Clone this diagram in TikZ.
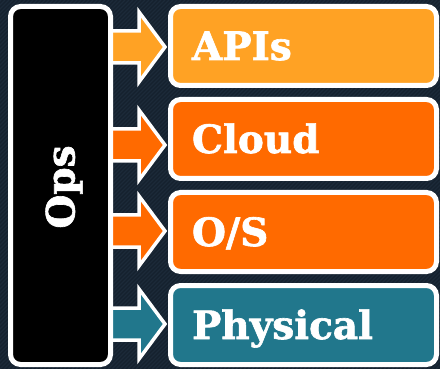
\documentclass[tikz,border=0pt]{standalone}
\usepackage{fontspec}
\setmainfont{DejaVu Serif}[BoldFeatures={FakeBold=1.6}]
\usetikzlibrary{calc}

\definecolor{bgnavy}{HTML}{15212E}
\definecolor{bgstripe}{HTML}{1C2A39}
\definecolor{apiorange}{HTML}{FFA224}
\definecolor{hotorange}{HTML}{FF6A00}
\definecolor{layerteal}{HTML}{21778C}

% block arrow from the Ops column to a layer box: colour, target, vertical offset
\newcommand\feedarrow[3]{%
  \coordinate (s) at ($(ops.east |- #2.west)+(-12,#3)$);
  \coordinate (t) at ($(#2.west)+(-5.5,#3)$);
  \draw[arrowbody, fill=#1]
    ($(s)+(0,-16)$) -- ($(t)+(-26,-16)$) -- ($(t)+(-26,-35)$) -- (t)
    -- ($(t)+(-26,35)$) -- ($(t)+(-26,16)$) -- ($(s)+(0,16)$) -- cycle;
}

\begin{document}
\begin{tikzpicture}[x=1pt,y=-1pt,
  labelfont/.style={font=\bfseries\fontsize{39}{39}\selectfont},
  layer/.style={draw=white, line width=5pt, rounded corners=10pt, outer sep=0pt,
    anchor=north west, minimum height=79pt, text width=223pt, inner xsep=21.5pt,
    align=left, text height=28pt, text depth=0pt, text=white, labelfont},
  column/.style={draw=white, line width=5pt, rounded corners=10pt, outer sep=0pt,
    fill=black, anchor=north west, minimum width=100pt, minimum height=358pt},
  arrowbody/.style={draw=white, line width=3.5pt, line join=miter}]

% backdrop with fine diagonal stripes
\fill[bgnavy] (0,0) rectangle (440,369);
\begin{scope}
  \clip (0,0) rectangle (440,369);
  \foreach \t in {-372,-368,...,440}
    \draw[bgstripe, line width=1.2pt] (\t,369) -- (\t+369,0);
\end{scope}
\useasboundingbox (0,0) rectangle (440,369);

% layer boxes
\node[layer, fill=apiorange]  (api)   at (170.5,6.5)   {APIs};
\node[layer, fill=hotorange]  (cloud) at (170.5,99.5)  {Cloud};
\node[layer, fill=hotorange]  (os)    at (170.5,192.5) {O/S};
\node[layer, fill=layerteal]  (phys)  at (170.5,285.5) {Physical};

% Ops column position (drawn after the arrows)
\path (10.5,6.5) coordinate (opsnw);
\node[column, draw=none, fill=none] (ops) at (opsnw) {};

% arrows into each layer
\feedarrow{apiorange}{api}{1}
\feedarrow{hotorange}{cloud}{6}
\feedarrow{hotorange}{os}{-1}
\feedarrow{layerteal}{phys}{-1}

% Ops column on top of the arrow tails
\node[column] (opsbox) at (opsnw) {};
\node[labelfont, text=white, rotate=90, text height=28pt, text depth=0pt]
  (opslabel) at ($(opsbox.center)+(0,1.5)$) {Ops};
\end{tikzpicture}
\end{document}
